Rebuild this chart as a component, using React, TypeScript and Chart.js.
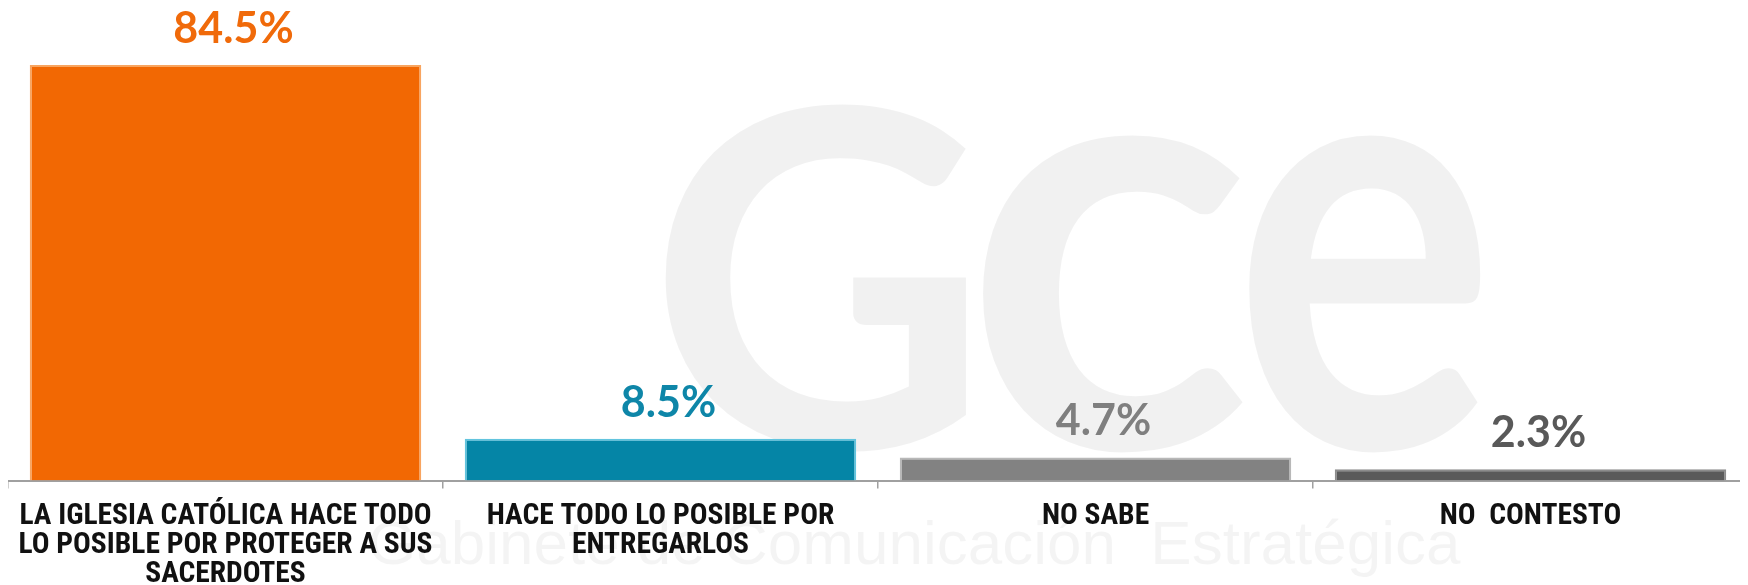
import React, { useEffect, useRef } from "react";
import { Chart, registerables } from "chart.js";

Chart.register(...registerables);

const categories: string[][] = [
  ["LA IGLESIA CATÓLICA HACE TODO", "LO POSIBLE POR PROTEGER A SUS", "SACERDOTES"],
  ["HACE TODO LO POSIBLE POR", "ENTREGARLOS"],
  ["NO SABE"],
  ["NO  CONTESTO"],
];
const values: number[] = [84.5, 8.5, 4.7, 2.3];
const valueLabels: string[] = ["84.5%", "8.5%", "4.7%", "2.3%"];
const barColors: string[] = ["#F26803", "#0585A6", "#828282", "#5A5A5A"];
const barEdges: string[] = ["#F8A560", "#62C4DE", "#B8B8B8", "#8C8C8C"];
const labelColors: string[] = ["#F06A0A", "#0E86A8", "#7F7F7F", "#595959"];

const watermark = {
  id: "watermark",
  beforeDatasetsDraw(chart: any) {
    const { ctx } = chart;
    ctx.save();
    ctx.fillStyle = "rgba(0,0,0,0.055)";
    ctx.textBaseline = "alphabetic";
    ctx.textAlign = "left";
    ctx.font = "bold 470px Lato, 'DejaVu Sans', sans-serif";
    ctx.fillText("G", 640, 440);
    ctx.font = "bold 600px Lato, 'DejaVu Sans', sans-serif";
    ctx.fillText("c", 955, 440);
    ctx.save();
    ctx.translate(1225, 440);
    ctx.scale(0.82, 1);
    ctx.fillText("e", 0, 0);
    ctx.restore();
    ctx.fillStyle = "rgba(0,0,0,0.045)";
    ctx.font = "62px 'Liberation Sans', sans-serif";
    ctx.fillText("Gabinete de Comunicación  Estratégica", 360, 556);
    ctx.restore();
  },
};

const valueLabelPlugin = {
  id: "valueLabels",
  afterDatasetsDraw(chart: any) {
    const { ctx } = chart;
    const meta = chart.getDatasetMeta(0);
    ctx.save();
    ctx.textAlign = "center";
    ctx.textBaseline = "middle";
    ctx.font = "bold 43px Lato, 'DejaVu Sans', sans-serif";
    meta.data.forEach((bar: any, i: number) => {
      ctx.fillStyle = labelColors[i];
      ctx.fillText(valueLabels[i], bar.x + 8, bar.y - 36);
    });
    ctx.restore();
  },
};

export default function App() {
  const ref = useRef<HTMLCanvasElement | null>(null);
  useEffect(() => {
    if (!ref.current) return;
    const chart = new Chart(ref.current, {
      type: "bar",
      data: {
        labels: categories,
        datasets: [
          {
            data: values,
            backgroundColor: barColors,
            borderColor: barEdges,
            borderWidth: 2,
            barPercentage: 0.9,
            categoryPercentage: 1.0,
          },
        ],
      },
      options: {
        animation: false,
        responsive: true,
        maintainAspectRatio: false,
        layout: { padding: { top: 30, left: 0, right: 0, bottom: 0 } },
        plugins: {
          legend: { display: false },
          tooltip: { enabled: false },
        },
        scales: {
          x: {
            offset: true,
            afterFit: (scale: any) => {
              scale.paddingLeft = 0;
              scale.paddingRight = 0;
              scale.height = 104.5;
            },
            border: { display: true, color: "#A0A0A0", width: 2 },
            grid: {
              display: true,
              offset: true,
              drawOnChartArea: false,
              drawTicks: true,
              tickLength: 8,
              color: "#A0A0A0",
              lineWidth: 1.5,
            },
            ticks: {
              autoSkip: false,
              maxRotation: 0,
              minRotation: 0,
              padding: 14,
              color: "#111111",
              font: {
                family: "'Roboto Condensed', Roboto, 'Liberation Sans', sans-serif",
                size: 29.5,
                weight: "bold",
                lineHeight: 0.98,
              },
            },
          },
          y: {
            display: false,
            min: 0,
            max: 90,
          },
        },
      },
      plugins: [watermark, valueLabelPlugin],
    });
    return () => chart.destroy();
  }, []);
  return (
    <div style={{ width: 1740, height: 577, position: "relative" }}>
      <canvas ref={ref} style={{ display: "block" }} />
    </div>
  );
}
